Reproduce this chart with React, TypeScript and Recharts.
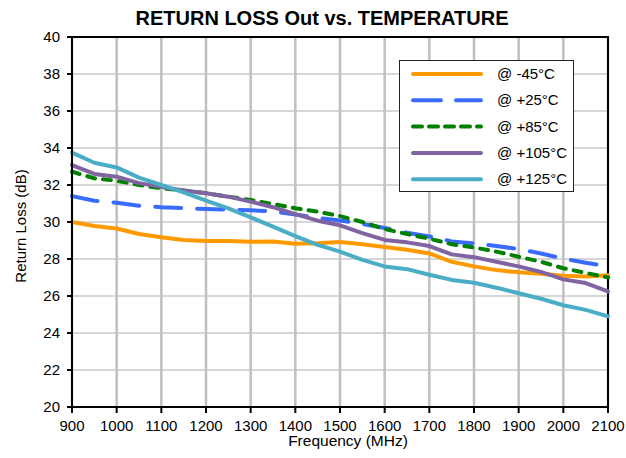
import React from "react"
import { LineChart, Line, XAxis, YAxis, CartesianGrid, ReferenceArea, Legend } from "recharts"

// Frequency points (MHz)
const freqs = [
  900, 950, 1000, 1050, 1100, 1150, 1200, 1250, 1300, 1350, 1400, 1450, 1500,
  1550, 1600, 1650, 1700, 1750, 1800, 1850, 1900, 1950, 2000, 2050, 2100,
]

// Return loss (dB) per temperature
const rlM45 = [
  30.0, 29.78, 29.65, 29.35, 29.18, 29.03, 28.97, 28.97, 28.93, 28.94, 28.82, 28.85, 28.92,
  28.8, 28.65, 28.5, 28.3, 27.85, 27.6, 27.4, 27.28, 27.2, 27.1, 27.05, 27.12,
]
const rlP25 = [
  31.4, 31.15, 31.04, 30.88, 30.8, 30.75, 30.7, 30.66, 30.63, 30.58, 30.4, 30.22, 30.08,
  29.9, 29.68, 29.42, 29.22, 28.95, 28.85, 28.7, 28.54, 28.3, 28.02, 27.8, 27.6,
]
const rlP85 = [
  32.72, 32.36, 32.23, 32.0, 31.82, 31.7, 31.55, 31.37, 31.19, 30.97, 30.74, 30.56, 30.32,
  30.0, 29.62, 29.35, 29.1, 28.8, 28.62, 28.4, 28.12, 27.85, 27.5, 27.25, 27.0,
]
const rlP105 = [
  33.08, 32.6, 32.45, 32.1, 31.9, 31.7, 31.55, 31.37, 31.1, 30.8, 30.43, 30.07, 29.82,
  29.4, 29.03, 28.9, 28.7, 28.25, 28.1, 27.85, 27.6, 27.3, 26.9, 26.7, 26.25,
]
const rlP125 = [
  33.75, 33.2, 32.95, 32.4, 32.0, 31.6, 31.15, 30.74, 30.25, 29.75, 29.24, 28.76, 28.4,
  27.95, 27.6, 27.45, 27.15, 26.87, 26.72, 26.45, 26.15, 25.85, 25.5, 25.25, 24.9,
]

const xTicks = [900, 1000, 1100, 1200, 1300, 1400, 1500, 1600, 1700, 1800, 1900, 2000, 2100]
const yTicks = [20, 22, 24, 26, 28, 30, 32, 34, 36, 38, 40]

const series = [
  { key: "m45", name: "@ -45°C", color: "#ff9900", dash: undefined },
  { key: "p25", name: "@ +25°C", color: "#3a6bff", dash: "26 16" },
  { key: "p85", name: "@ +85°C", color: "#008000", dash: "8 8" },
  { key: "p105", name: "@ +105°C", color: "#8064a2", dash: undefined },
  { key: "p125", name: "@ +125°C", color: "#4bacc6", dash: undefined },
]

const data = freqs.map((f, i) => ({
  freq: f,
  m45: rlM45[i],
  p25: rlP25[i],
  p85: rlP85[i],
  p105: rlP105[i],
  p125: rlP125[i],
}))

const font = "'Liberation Sans', Arial, sans-serif"

function LegendBox() {
  return (
    <div
      style={{
        width: 173,
        height: 130,
        border: "1px solid #222",
        background: "#fff",
        fontFamily: font,
        fontSize: 15,
        color: "#000",
      }}
    >
      <svg width={173} height={130}>
        {series.map((s, i) => {
          const y = 13 + i * 26.3
          return (
            <g key={s.key}>
              <line
                x1={13}
                x2={81}
                y1={y}
                y2={y}
                stroke={s.color}
                strokeWidth={4}
                strokeLinecap="round"
                strokeDasharray={s.key === "p25" ? "28 15" : s.key === "p85" ? "9 7" : undefined}
              />
              <text x={97} y={y + 5} fontSize={15} fontFamily={font} fill="#000">
                {s.name}
              </text>
            </g>
          )
        })}
      </svg>
    </div>
  )
}

export default function App() {
  return (
    <div style={{ position: "absolute", left: 0, top: 0, width: 626, height: 458, background: "#fff", fontFamily: font }}>
      <div
        style={{
          position: "absolute",
          left: 322,
          top: 18,
          transform: "translate(-50%, -50%)",
          whiteSpace: "nowrap",
          fontWeight: "bold",
          fontSize: 20,
          color: "#000",
        }}
      >
        RETURN LOSS Out vs. TEMPERATURE
      </div>
      <LineChart width={626} height={458} data={data} margin={{ top: 37, right: 18, bottom: 0, left: 0 }}>
        <CartesianGrid vertical={false} stroke="#c8c8c8" strokeWidth={1.5} />
        <CartesianGrid horizontal={false} stroke="#c0c0c0" strokeWidth={2.5} />
        <XAxis
          dataKey="freq"
          type="number"
          domain={[900, 2100]}
          ticks={xTicks}
          height={51}
          tickSize={6}
          tickMargin={7}
          axisLine={{ stroke: "#000", strokeWidth: 2 }}
          tickLine={{ stroke: "#000", strokeWidth: 2 }}
          tick={{ fill: "#000", fontSize: 15, fontFamily: font }}
        />
        <YAxis
          type="number"
          domain={[20, 40]}
          ticks={yTicks}
          width={72}
          tickSize={5}
          tickMargin={7}
          axisLine={{ stroke: "#000", strokeWidth: 2 }}
          tickLine={{ stroke: "#000", strokeWidth: 2 }}
          tick={{ fill: "#000", fontSize: 15, fontFamily: font }}
        />
        <ReferenceArea x1={900} x2={2100} y1={20} y2={40} fill="none" stroke="#000" strokeWidth={2} ifOverflow="visible" />
        {series.map((s) => (
          <Line
            key={s.key}
            dataKey={s.key}
            name={s.name}
            type="linear"
            stroke={s.color}
            strokeWidth={4}
            strokeDasharray={s.dash}
            strokeLinecap="round"
            strokeLinejoin="round"
            dot={false}
            activeDot={false}
            isAnimationActive={false}
          />
        ))}
        <Legend
          layout="vertical"
          align="center"
          verticalAlign="middle"
          content={() => <LegendBox />}
          wrapperStyle={{ left: 399, top: 60, width: 175, height: 132 }}
        />
      </LineChart>
      <div
        style={{
          position: "absolute",
          left: 20,
          top: 226,
          transform: "translate(-50%, -50%) rotate(-90deg)",
          whiteSpace: "nowrap",
          fontSize: 15,
          color: "#000",
        }}
      >
        Return Loss (dB)
      </div>
      <div
        style={{
          position: "absolute",
          left: 348,
          top: 441,
          transform: "translate(-50%, -50%)",
          whiteSpace: "nowrap",
          fontSize: 15.5,
          color: "#000",
        }}
      >
        Frequency (MHz)
      </div>
    </div>
  )
}
